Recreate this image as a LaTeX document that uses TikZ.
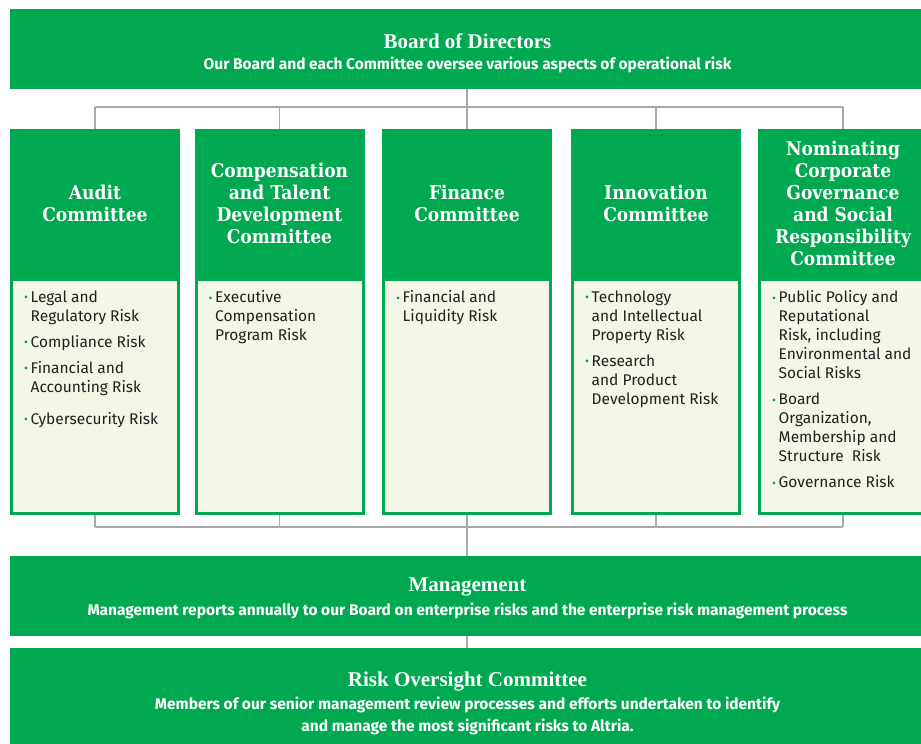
\documentclass[tikz,border=0pt]{standalone}
\usepackage{fontspec}
\setmainfont{Fira Sans}
\newfontfamily\slabfont{DejaVu Serif}[FakeStretch=0.9]
\newfontfamily\titlefont{Liberation Serif}
\usetikzlibrary{positioning}
\definecolor{boardgreen}{HTML}{00A94F}
\definecolor{boxcream}{HTML}{F4F7E7}
\definecolor{linkgray}{HTML}{A9A9A9}
\definecolor{itemblack}{HTML}{231F20}
\newlength{\bulw}\setlength{\bulw}{6.5pt}
\newcommand{\bul}{\makebox[\bulw][l]{\textcolor{boardgreen}{\raisebox{0.6pt}{\fontsize{12}{12}\selectfont\textbullet}}}}
\newcommand{\cont}{\hspace*{\bulw}}
\newcommand{\sep}{\\[7pt]}
\newcommand{\bartitle}{\titlefont\bfseries\fontsize{21}{23}\selectfont}
\newcommand{\barsub}{\bfseries\fontsize{15.5}{18}\selectfont}
\tikzset{
    bar/.style = {fill=boardgreen, inner sep=0pt, minimum width=915pt},
    bartext/.style = {text=white, align=center, inner sep=0pt},
    cmhead/.style = {fill=boardgreen, draw=boardgreen, line width=3pt, text=white,
        align=center, minimum width=167pt, minimum height=146pt, inner sep=0pt,
        font=\slabfont\bfseries\fontsize{19}{22}\selectfont},
    cmbody/.style = {fill=boxcream, draw=boardgreen, line width=3pt,
        minimum width=167pt, minimum height=234pt, inner sep=0pt},
    risklist/.style = {anchor=north west, align=left, inner sep=0pt, text=itemblack,
        font=\fontsize{15.5}{19}\selectfont},
    link/.style = {draw=linkgray, line width=1.5pt}
}

\begin{document}
\begin{tikzpicture}[x=1pt, y=-1pt]
    \useasboundingbox (0,0) rectangle (921,744);
    % board of directors
    \node [bar, minimum height=80pt,
        label={[bartext, yshift=-4pt]center:{\bartitle Board of Directors}\\[7pt]
        {\barsub Our Board and each Committee oversee various aspects of operational risk}}]
        (board) at (467.5,49) {};
    % committees
    \node [cmhead] (head1) at (95,203.5) {Audit\\Committee};
    \node [cmhead] (head2) at (279.5,203.5) {Compensation\\and Talent\\Development\\Committee};
    \node [cmhead] (head3) at (467,203.5) {Finance\\Committee};
    \node [cmhead] (head4) at (656,203.5) {Innovation\\Committee};
    \node [cmhead] (head5) at (843,203.5) {Nominating\\Corporate\\Governance\\and Social\\Responsibility\\Committee};
    \foreach \i in {1,...,5}{
        \node [cmbody, below=0pt of head\i] (body\i) {};
    }
    \node [risklist] (list1) at ([xshift=14pt,yshift=-12.5pt]body1.north west) {%
        \bul Legal and\\ \cont Regulatory Risk\sep
        \bul Compliance Risk\sep
        \bul Financial and\\ \cont Accounting Risk\\[13pt]
        \bul Cybersecurity Risk};
    \node [risklist] (list2) at ([xshift=14pt,yshift=-12.5pt]body2.north west) {%
        \bul Executive\\ \cont Compensation\\ \cont Program Risk};
    \node [risklist] (list3) at ([xshift=14pt,yshift=-12.5pt]body3.north west) {%
        \bul Financial and\\ \cont Liquidity Risk};
    \node [risklist] (list4) at ([xshift=14pt,yshift=-12.5pt]body4.north west) {%
        \bul Technology\\ \cont and Intellectual\\ \cont Property Risk\sep
        \bul Research\\ \cont and Product\\ \cont Development Risk};
    \node [risklist] (list5) at ([xshift=14pt,yshift=-12.5pt]body5.north west) {%
        \bul Public Policy and\\ \cont Reputational\\ \cont Risk, including\\
        \cont Environmental and\\ \cont Social Risks\sep
        \bul Board\\ \cont Organization,\\ \cont Membership and\\ \cont Structure\ \ Risk\sep
        \bul Governance Risk};
    % management and risk oversight
    \node [bar, minimum height=80pt,
        label={[bartext, yshift=-2.5pt]center:{\bartitle Management}\\[6pt]
        {\barsub Management reports annually to our Board on enterprise risks and the enterprise risk management process}}]
        (mgmt) at (467.5,596) {};
    \node [bar, minimum height=108pt,
        label={[bartext, yshift=-1.5pt]center:{\bartitle Risk Oversight Committee}\\[5pt]
        {\barsub Members of our senior management review processes and efforts undertaken to identify}\\[5pt]
        {\barsub and manage the most significant risks to Altria.}}]
        (risk) at (467.5,702) {};
    % connectors
    \coordinate (topbar) at (467,107);
    \coordinate (lowbar) at (467,527);
    \draw [link] (topbar |- board.south) -- (topbar);
    \draw [link] (topbar -| head1) -- (topbar -| head5);
    \draw [link] (lowbar -| body1) -- (lowbar -| body5);
    \foreach \i in {1,...,5}{
        \draw [link] (topbar -| head\i) -- (head\i.north);
        \draw [link] (body\i.south) -- (lowbar -| body\i);
    }
    \draw [link] (lowbar) -- (mgmt.north -| lowbar);
    \draw [link] (mgmt.south -| lowbar) -- (risk.north -| lowbar);
\end{tikzpicture}
\end{document}
